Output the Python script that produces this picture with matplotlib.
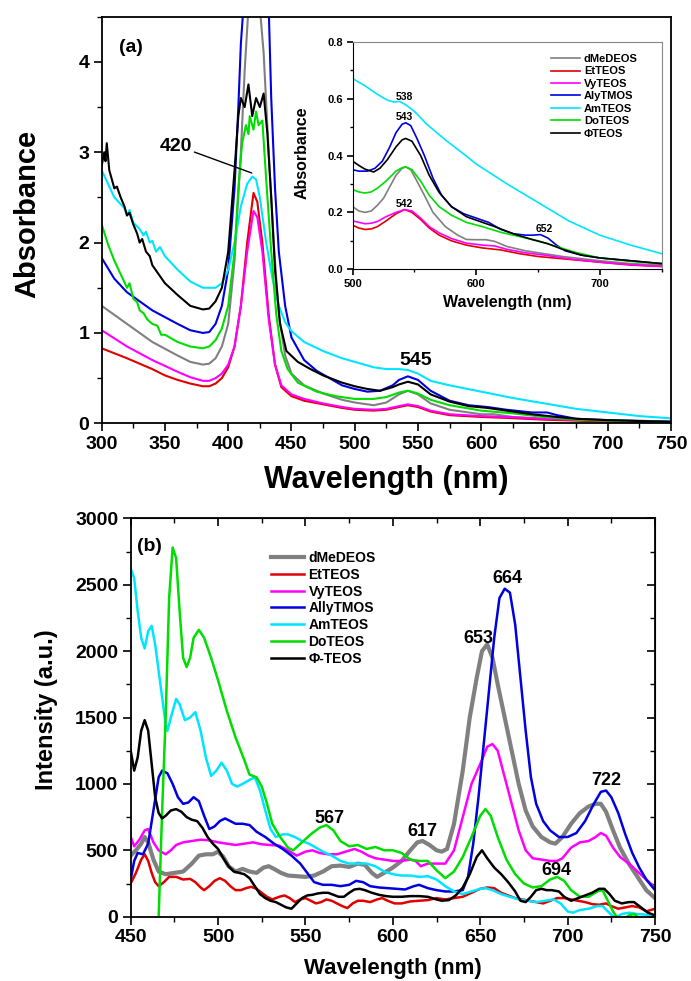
import matplotlib
matplotlib.use("Agg")
import matplotlib.pyplot as plt
from matplotlib.ticker import MultipleLocator, FormatStrFormatter, NullFormatter
import numpy as np

plt.rcParams['font.family'] = ['Liberation Sans', 'DejaVu Sans']
plt.rcParams['font.weight'] = 'bold'
plt.rcParams['axes.labelweight'] = 'bold'

names_a = ['dMeDEOS', 'EtTEOS', 'VyTEOS', 'AlyTMOS', 'AmTEOS', 'DoTEOS', u'\u03a6TEOS']
names_b = ['dMeDEOS', 'EtTEOS', 'VyTEOS', 'AllyTMOS', 'AmTEOS', 'DoTEOS', u'\u03a6-TEOS']
colors = ['#808080', '#e00000', '#ff00ff', '#0000e0', '#00e5ff', '#00dd00', '#000000']

# ---- (a) absorption spectra
abs_gray = [(300, 1.3), (320, 1.1), (340, 0.9), (360, 0.75), (370, 0.68), (380, 0.65), (385, 0.66),
            (390, 0.72), (395, 0.85), (400, 1.1), (405, 1.8), (410, 3.0), (413, 3.9), (416, 4.6),
            (425, 4.6), (428, 4.1), (432, 3.0), (436, 2.0), (440, 1.2), (445, 0.75), (450, 0.55),
            (460, 0.42), (475, 0.33), (490, 0.26), (500, 0.23), (515, 0.2), (525, 0.23), (535, 0.32),
            (542, 0.36), (550, 0.32), (560, 0.22), (575, 0.15), (600, 0.1), (610, 0.1), (625, 0.07),
            (650, 0.05), (700, 0.02), (750, 0.01)]
abs_red = [(300, 0.83), (320, 0.72), (340, 0.6), (350, 0.53), (360, 0.48), (370, 0.44), (380, 0.41),
           (385, 0.41), (390, 0.44), (395, 0.5), (400, 0.62), (405, 0.85), (410, 1.3), (415, 2.0),
           (420, 2.55), (423, 2.45), (427, 2.0), (432, 1.2), (437, 0.65), (442, 0.4), (450, 0.3),
           (460, 0.25), (475, 0.21), (490, 0.17), (500, 0.15), (515, 0.14), (525, 0.15), (535, 0.18),
           (542, 0.2), (550, 0.18), (560, 0.13), (575, 0.09), (600, 0.07), (620, 0.06), (650, 0.04),
           (700, 0.02), (750, 0.01)]
abs_mag = [(300, 1.03), (320, 0.85), (340, 0.7), (360, 0.57), (370, 0.51), (380, 0.47), (385, 0.47),
           (390, 0.5), (395, 0.55), (400, 0.65), (405, 0.85), (410, 1.3), (415, 1.9), (420, 2.35),
           (423, 2.28), (427, 1.9), (432, 1.15), (437, 0.65), (442, 0.42), (450, 0.32), (460, 0.27),
           (475, 0.22), (490, 0.18), (500, 0.16), (515, 0.15), (525, 0.16), (535, 0.19), (542, 0.21),
           (550, 0.19), (560, 0.14), (575, 0.1), (600, 0.08), (620, 0.07), (650, 0.05), (700, 0.03),
           (750, 0.015)]
abs_blue = [(300, 1.83), (310, 1.6), (320, 1.45), (340, 1.25), (360, 1.1), (370, 1.03), (380, 1.0),
            (385, 1.01), (390, 1.1), (395, 1.3), (400, 1.7), (405, 2.6), (408, 3.5), (410, 4.2),
            (412, 4.6), (432, 4.6), (434, 3.6), (437, 2.6), (440, 1.9), (445, 1.3), (450, 0.95),
            (460, 0.7), (470, 0.58), (480, 0.5), (490, 0.42), (500, 0.38), (510, 0.35), (520, 0.36),
            (530, 0.42), (535, 0.48), (542, 0.52), (550, 0.48), (560, 0.36), (575, 0.25), (590, 0.2),
            (605, 0.18), (620, 0.15), (640, 0.12), (652, 0.12), (660, 0.09), (675, 0.05), (700, 0.035),
            (750, 0.02)]
abs_cyan = [(300, 2.8), (305, 2.65), (310, 2.5), (318, 2.38), (320, 2.3), (322, 2.36), (325, 2.22),
            (330, 2.15), (333, 2.08), (335, 2.12), (338, 2.0), (340, 2.02), (343, 1.9), (346, 1.95),
            (350, 1.85), (360, 1.7), (370, 1.57), (380, 1.5), (385, 1.5), (390, 1.5), (395, 1.55),
            (400, 1.7), (405, 2.0), (410, 2.4), (415, 2.65), (419, 2.73), (422, 2.7), (425, 2.5),
            (430, 2.0), (435, 1.6), (440, 1.3), (445, 1.12), (450, 1.02), (460, 0.9), (475, 0.8),
            (490, 0.72), (500, 0.68), (515, 0.62), (525, 0.6), (535, 0.6), (542, 0.59), (550, 0.55),
            (560, 0.47), (575, 0.42), (600, 0.35), (625, 0.28), (650, 0.22), (675, 0.16), (700, 0.12),
            (725, 0.08), (750, 0.055)]
abs_green = [(300, 2.2), (305, 1.98), (310, 1.8), (315, 1.65), (320, 1.5), (322, 1.55), (325, 1.38),
             (328, 1.34), (330, 1.25), (333, 1.22), (336, 1.15), (340, 1.1), (344, 1.08), (347, 0.98),
             (350, 0.98), (360, 0.9), (370, 0.85), (380, 0.83), (385, 0.85), (390, 0.92), (395, 1.05),
             (400, 1.3), (405, 1.9), (408, 2.6), (411, 3.1), (414, 3.3), (416, 3.2), (417, 3.4),
             (420, 3.25), (422, 3.45), (424, 3.3), (427, 3.35), (430, 2.7), (434, 1.9), (438, 1.2),
             (442, 0.8), (447, 0.6), (455, 0.45), (470, 0.35), (485, 0.3), (500, 0.27), (515, 0.27),
             (525, 0.29), (535, 0.34), (542, 0.36), (550, 0.33), (560, 0.26), (575, 0.2), (600, 0.14),
             (625, 0.11), (650, 0.07), (675, 0.04), (700, 0.03), (750, 0.015)]
abs_black = [(300, 2.85), (302, 3.0), (303, 2.9), (304, 3.1), (306, 2.8), (308, 2.7), (310, 2.6),
             (312, 2.62), (315, 2.5), (318, 2.4), (320, 2.3), (322, 2.33), (325, 2.2), (328, 2.1),
             (330, 2.0), (332, 2.04), (335, 1.9), (338, 1.85), (340, 1.75), (345, 1.65), (350, 1.55),
             (360, 1.42), (370, 1.3), (380, 1.26), (385, 1.27), (390, 1.35), (395, 1.5), (400, 1.9),
             (405, 2.8), (408, 3.4), (410, 3.6), (413, 3.5), (416, 3.75), (419, 3.4), (422, 3.6),
             (425, 3.5), (428, 3.65), (431, 3.2), (434, 2.5), (437, 1.7), (441, 1.1), (446, 0.8),
             (455, 0.68), (465, 0.6), (475, 0.53), (490, 0.45), (500, 0.41), (510, 0.38), (520, 0.36),
             (530, 0.4), (535, 0.43), (542, 0.46), (550, 0.43), (560, 0.32), (575, 0.24), (590, 0.19),
             (605, 0.17), (620, 0.14), (640, 0.1), (660, 0.07), (675, 0.05), (700, 0.035), (750, 0.015)]
abs_all = [abs_gray, abs_red, abs_mag, abs_blue, abs_cyan, abs_green, abs_black]

# ---- inset 500-750 nm
ins_gray = [(500, 0.22), (505, 0.205), (510, 0.2), (515, 0.205), (520, 0.225), (525, 0.25),
            (530, 0.29), (535, 0.33), (540, 0.355), (543, 0.36), (547, 0.35), (552, 0.31), (558, 0.26),
            (565, 0.2), (575, 0.15), (585, 0.12), (592, 0.105), (600, 0.104), (608, 0.104), (615, 0.098),
            (625, 0.08), (640, 0.065), (655, 0.055), (670, 0.045), (700, 0.03), (725, 0.02), (750, 0.015)]
ins_red = [(500, 0.155), (505, 0.145), (510, 0.14), (515, 0.142), (520, 0.15), (527, 0.17),
           (535, 0.195), (542, 0.21), (548, 0.2), (555, 0.175), (562, 0.145), (570, 0.12), (580, 0.1),
           (592, 0.085), (605, 0.075), (620, 0.068), (635, 0.055), (650, 0.045), (675, 0.035),
           (700, 0.025), (725, 0.015), (750, 0.01)]
ins_mag = [(500, 0.17), (505, 0.165), (510, 0.16), (515, 0.162), (520, 0.168), (527, 0.185),
           (535, 0.2), (542, 0.21), (548, 0.205), (555, 0.18), (562, 0.15), (570, 0.128), (580, 0.108),
           (592, 0.092), (605, 0.085), (615, 0.082), (625, 0.07), (640, 0.058), (655, 0.05),
           (675, 0.037), (700, 0.025), (725, 0.016), (750, 0.01)]
ins_blue = [(500, 0.35), (505, 0.345), (512, 0.345), (518, 0.355), (524, 0.38), (530, 0.43),
            (535, 0.48), (540, 0.51), (543, 0.515), (547, 0.505), (552, 0.46), (558, 0.4), (565, 0.32),
            (572, 0.26), (580, 0.22), (590, 0.195), (600, 0.18), (610, 0.165), (620, 0.14), (630, 0.125),
            (640, 0.12), (646, 0.12), (652, 0.122), (658, 0.11), (665, 0.085), (672, 0.065), (685, 0.05),
            (700, 0.04), (725, 0.03), (750, 0.02)]
ins_cyan = [(500, 0.67), (510, 0.645), (520, 0.615), (528, 0.595), (533, 0.588), (538, 0.59),
            (543, 0.578), (550, 0.555), (560, 0.51), (575, 0.455), (590, 0.405), (600, 0.37),
            (625, 0.3), (650, 0.235), (675, 0.17), (700, 0.12), (725, 0.085), (750, 0.055)]
ins_green = [(500, 0.28), (505, 0.272), (510, 0.268), (515, 0.272), (520, 0.285), (527, 0.31),
             (535, 0.345), (540, 0.357), (543, 0.36), (548, 0.35), (555, 0.31), (562, 0.26),
             (570, 0.22), (580, 0.19), (592, 0.165), (605, 0.15), (620, 0.13), (635, 0.115),
             (650, 0.1), (665, 0.08), (680, 0.06), (700, 0.04), (725, 0.028), (750, 0.02)]
ins_black = [(500, 0.38), (505, 0.365), (510, 0.352), (517, 0.342), (522, 0.355), (528, 0.385),
             (535, 0.43), (540, 0.455), (543, 0.46), (548, 0.45), (555, 0.4), (562, 0.33), (570, 0.27),
             (580, 0.22), (592, 0.185), (605, 0.165), (615, 0.15), (630, 0.125), (645, 0.105),
             (658, 0.09), (670, 0.07), (685, 0.05), (700, 0.04), (725, 0.03), (750, 0.02)]
ins_all = [ins_gray, ins_red, ins_mag, ins_blue, ins_cyan, ins_green, ins_black]

# ---- (b) emission spectra
pl_gray = [(450, 460), (453, 500), (456, 550), (458, 600), (460, 560), (463, 430), (466, 340), (470, 320),
           (475, 330), (480, 340), (485, 400), (489, 460), (493, 470), (497, 470), (500, 490), (503, 450),
           (506, 380), (510, 340), (514, 360), (518, 340), (522, 330), (526, 370), (529, 380), (532, 360),
           (536, 330), (540, 310), (545, 305), (550, 300), (555, 310), (560, 340), (565, 380), (570, 385),
           (575, 375), (580, 400), (584, 390), (588, 330), (591, 300), (595, 330), (600, 370), (605, 420),
           (610, 500), (614, 560), (617, 570), (621, 540), (625, 500), (628, 490), (631, 510), (635, 700),
           (640, 1100), (644, 1500), (648, 1800), (651, 2000), (654, 2050), (657, 1950), (660, 1750),
           (664, 1500), (668, 1250), (672, 1000), (676, 800), (680, 680), (685, 600), (690, 560),
           (693, 550), (697, 600), (702, 700), (707, 780), (712, 830), (716, 850), (719, 850), (722, 790),
           (726, 650), (730, 520), (735, 400), (740, 300), (745, 200), (750, 140)]
pl_red = [(450, 250), (453, 330), (456, 430), (458, 470), (460, 420), (462, 330), (464, 260), (466, 230),
          (469, 260), (472, 300), (476, 300), (480, 280), (484, 285), (487, 260), (490, 220), (492, 200),
          (495, 230), (498, 270), (501, 290), (504, 270), (507, 230), (510, 200), (513, 200), (516, 215),
          (519, 225), (522, 210), (525, 180), (528, 150), (531, 130), (535, 150), (538, 160), (541, 140),
          (544, 110), (547, 130), (550, 140), (553, 120), (556, 100), (559, 110), (562, 130), (565, 120),
          (568, 100), (571, 80), (574, 65), (577, 100), (580, 120), (583, 120), (587, 110), (591, 130),
          (594, 140), (597, 120), (601, 100), (605, 100), (610, 115), (615, 120), (620, 125), (625, 140),
          (630, 130), (635, 140), (640, 150), (645, 180), (650, 210), (654, 220), (658, 215), (662, 180),
          (666, 160), (670, 140), (674, 130), (678, 120), (682, 110), (686, 100), (690, 120), (694, 140),
          (698, 140), (702, 130), (706, 120), (710, 110), (714, 95), (718, 90), (722, 100), (725, 80),
          (729, 60), (733, 70), (737, 80), (741, 70), (745, 40), (750, 60)]
pl_mag = [(450, 600), (452, 530), (455, 580), (458, 650), (460, 660), (463, 560), (466, 500), (470, 470),
          (473, 500), (476, 540), (480, 560), (485, 570), (490, 580), (495, 575), (500, 560), (505, 550),
          (510, 540), (515, 550), (520, 560), (525, 545), (530, 540), (535, 535), (540, 500), (545, 460),
          (550, 490), (554, 500), (558, 480), (563, 470), (568, 470), (573, 490), (578, 510), (582, 490),
          (586, 460), (590, 440), (595, 430), (600, 420), (605, 420), (610, 430), (613, 420), (616, 380),
          (620, 400), (625, 400), (630, 400), (635, 500), (640, 750), (645, 1000), (650, 1150),
          (654, 1280), (657, 1300), (660, 1250), (664, 1050), (668, 850), (672, 650), (676, 500),
          (680, 440), (685, 430), (690, 420), (694, 420), (697, 440), (702, 520), (707, 560), (712, 570),
          (716, 600), (719, 630), (722, 610), (726, 520), (730, 450), (735, 400), (740, 340), (745, 280),
          (750, 220)]
pl_blue = [(450, 280), (452, 420), (454, 480), (457, 470), (460, 550), (463, 800), (466, 1050),
           (468, 1100), (471, 1080), (474, 1000), (477, 900), (480, 850), (483, 860), (486, 900),
           (489, 870), (492, 760), (495, 660), (498, 680), (501, 720), (504, 740), (507, 720), (510, 700),
           (514, 700), (518, 690), (522, 640), (527, 600), (532, 550), (537, 510), (542, 460), (547, 400),
           (551, 330), (555, 260), (560, 240), (565, 240), (570, 230), (575, 240), (579, 270), (583, 260),
           (587, 230), (592, 220), (597, 215), (602, 210), (607, 205), (612, 230), (615, 240), (620, 215),
           (625, 200), (630, 190), (635, 190), (640, 200), (643, 300), (646, 550), (649, 900), (652, 1300),
           (655, 1700), (658, 2100), (661, 2400), (664, 2470), (667, 2440), (670, 2200), (673, 1800),
           (676, 1400), (679, 1050), (682, 850), (686, 720), (690, 650), (695, 600), (700, 600),
           (705, 630), (710, 720), (715, 850), (719, 940), (722, 950), (725, 900), (729, 780), (733, 620),
           (737, 480), (741, 370), (745, 280), (750, 200)]
pl_cyan = [(450, 2620), (452, 2550), (454, 2300), (456, 2100), (458, 2020), (460, 2150), (462, 2190),
           (464, 2050), (466, 1850), (468, 1650), (470, 1450), (471, 1400), (473, 1500), (476, 1640),
           (478, 1600), (481, 1480), (484, 1500), (487, 1540), (490, 1400), (493, 1200), (496, 1060),
           (499, 1100), (502, 1160), (505, 1100), (508, 1000), (511, 980), (514, 1000), (518, 1030),
           (521, 1050), (524, 950), (527, 800), (530, 660), (533, 600), (537, 620), (540, 620), (544, 600),
           (548, 570), (552, 550), (556, 520), (560, 490), (565, 460), (570, 420), (575, 400), (580, 400),
           (585, 400), (590, 380), (595, 340), (600, 320), (605, 310), (610, 310), (615, 300), (620, 305),
           (625, 280), (630, 230), (635, 190), (640, 170), (645, 190), (650, 210), (653, 215), (657, 200),
           (662, 170), (667, 150), (672, 130), (677, 120), (682, 110), (687, 120), (692, 130), (696, 100),
           (700, 40), (703, 30), (707, 50), (712, 60), (717, 80), (720, 80), (723, 40), (727, -10),
           (731, 20), (735, 30), (740, 20), (745, 15), (750, 10)]
pl_green = [(465, -200), (466, 0), (468, 800), (470, 1500), (472, 2400), (474, 2780), (476, 2700),
            (478, 2300), (480, 1950), (482, 1880), (484, 1950), (486, 2100), (489, 2160), (492, 2100),
            (496, 1950), (500, 1780), (505, 1550), (510, 1350), (515, 1180), (518, 1070), (522, 1050),
            (525, 980), (528, 850), (531, 700), (535, 610), (540, 520), (543, 500), (548, 560), (553, 620),
            (558, 670), (562, 690), (566, 650), (570, 570), (575, 530), (580, 540), (585, 510), (590, 525),
            (595, 500), (600, 500), (605, 480), (610, 430), (615, 420), (620, 420), (625, 350), (630, 290),
            (635, 340), (640, 450), (645, 600), (650, 760), (653, 810), (656, 760), (660, 600), (665, 430),
            (670, 320), (675, 250), (680, 220), (685, 230), (690, 280), (694, 300), (698, 270), (702, 200),
            (707, 150), (712, 150), (717, 190), (720, 200), (723, 120), (726, 40), (728, 0), (731, -30),
            (735, 10), (738, 20), (741, -10), (745, -50), (750, -60)]
pl_black = [(450, 1250), (452, 1100), (454, 1200), (456, 1400), (458, 1480), (460, 1400), (462, 1150),
            (464, 900), (466, 780), (468, 740), (470, 760), (473, 800), (476, 810), (479, 790), (482, 750),
            (485, 730), (488, 720), (491, 670), (494, 600), (497, 550), (500, 510), (503, 440), (506, 380),
            (509, 340), (512, 330), (515, 320), (518, 290), (521, 230), (524, 170), (527, 140), (530, 120),
            (533, 110), (536, 90), (539, 70), (542, 60), (545, 100), (548, 140), (551, 160), (554, 165),
            (557, 175), (560, 180), (563, 180), (566, 165), (569, 150), (572, 150), (575, 180), (578, 205),
            (581, 210), (584, 200), (588, 180), (592, 165), (596, 155), (600, 150), (605, 150), (610, 155),
            (615, 155), (620, 150), (625, 130), (628, 120), (632, 125), (636, 160), (640, 220), (644, 320),
            (648, 450), (651, 500), (654, 440), (658, 370), (662, 320), (666, 260), (670, 190), (673, 120),
            (676, 110), (679, 150), (682, 200), (685, 210), (688, 200), (691, 200), (695, 190), (698, 150),
            (702, 120), (706, 140), (710, 160), (714, 180), (718, 210), (721, 210), (724, 170), (727, 120),
            (731, 100), (735, 110), (738, 110), (742, 70), (746, 30), (750, 10)]
pl_all = [pl_gray, pl_red, pl_mag, pl_blue, pl_cyan, pl_green, pl_black]
pl_widths = [3.0, 1.8, 1.8, 1.8, 1.8, 1.8, 1.8]

W, H = 691, 981
fig = plt.figure(figsize=(W / 100.0, H / 100.0), dpi=100)


def box(l, t, r, b):
    return [l / W, 1 - b / H, (r - l) / W, (b - t) / H]


def ticks(ax, size, length=6):
    ax.tick_params(which='major', length=length, width=1.2, labelsize=size, pad=3)
    ax.tick_params(which='minor', length=length * 0.6, width=1.0)
    for lab in ax.get_xticklabels() + ax.get_yticklabels():
        lab.set_fontweight('bold')


# ---------------- panel (a)
ax1 = fig.add_axes(box(101.7, 16.7, 671, 423.3))
for d, c in zip(abs_all, colors):
    d = np.array(d)
    ax1.plot(d[:, 0], d[:, 1], color=c, lw=1.5)
ax1.set_xlim(300, 750)
ax1.set_ylim(0, 4.5)
ax1.xaxis.set_major_locator(MultipleLocator(50))
ax1.xaxis.set_minor_locator(MultipleLocator(25))
ax1.yaxis.set_major_locator(MultipleLocator(1))
ax1.yaxis.set_minor_locator(MultipleLocator(0.5))
ax1.tick_params(which='both', direction='out', top=False, right=False)
ticks(ax1, 14)
for s in ax1.spines.values():
    s.set_linewidth(1.3)
ax1.set_ylabel('Absorbance', fontsize=21, fontweight='bold')
ax1.yaxis.set_label_coords(-0.130, 0.515)
ax1.yaxis.label.set_va('center')
ax1.set_xlabel('Wavelength (nm)', fontsize=22, fontweight='bold')
ax1.xaxis.set_label_coords(0.5, -0.139)
ax1.xaxis.label.set_va('center')
ax1.text(0.03, 0.925, '(a)', transform=ax1.transAxes, fontsize=14, fontweight='bold', va='center')
ax1.annotate('420', xy=(418.6, 2.77), xytext=(358.3, 3.06), fontsize=14, fontweight='bold',
             ha='center', va='center',
             arrowprops=dict(arrowstyle='-', color='k', lw=1.0, shrinkA=0, shrinkB=0,
                             relpos=(1.0, 0.25)))
ax1.text(548, 0.69, '545', fontsize=14, fontweight='bold', ha='center', va='center')

# inset
ax_in = fig.add_axes(box(352.7, 41.7, 661.5, 269.3))
for d, c in zip(ins_all, colors):
    d = np.array(d)
    ax_in.plot(d[:, 0], d[:, 1], color=c, lw=1.2)
ax_in.set_xlim(500, 750)
ax_in.set_ylim(0, 0.8)
ax_in.xaxis.set_major_locator(MultipleLocator(100))
ax_in.xaxis.set_minor_locator(MultipleLocator(50))
ax_in.yaxis.set_major_locator(MultipleLocator(0.2))
ax_in.yaxis.set_minor_locator(MultipleLocator(0.1))
ax_in.tick_params(which='both', direction='out', top=False, right=False)
ticks(ax_in, 8, length=4)
ax_in.yaxis.set_major_formatter(FormatStrFormatter('%.1f'))
ax_in.spines['top'].set_color('#888888')
ax_in.spines['right'].set_color('#888888')
ax_in.set_ylabel('Absorbance', fontsize=11.5, fontweight='bold')
ax_in.yaxis.set_label_coords(-0.164, 0.511)
ax_in.yaxis.label.set_va('center')
ax_in.set_xlabel('Wavelength (nm)', fontsize=11.5, fontweight='bold')
ax_in.xaxis.set_label_coords(0.5, -0.144)
ax_in.xaxis.label.set_va('center')
for txt, x, y in [('538', 542, 0.607), ('543', 542, 0.536), ('542', 542, 0.23), ('652', 655, 0.143)]:
    ax_in.text(x, y, txt, fontsize=7.5, fontweight='bold', ha='center', va='center')
h_in = [ax_in.lines[i] for i in range(7)]
ax_in.legend(h_in, names_a, loc='upper left', bbox_to_anchor=(551 / W, 1 - 54 / H),
             bbox_transform=fig.transFigure, frameon=False, borderpad=0,
             borderaxespad=0, handlelength=2.6, handletextpad=0.35, labelspacing=0.22,
             prop={'weight': 'bold', 'size': 8})

# ---------------- panel (b)
ax2 = fig.add_axes(box(130.7, 518.3, 655, 916.7))
for d, c, w in zip(pl_all, colors, pl_widths):
    d = np.array(d)
    ax2.plot(d[:, 0], d[:, 1], color=c, lw=w)
ax2.set_xlim(450, 750)
ax2.set_ylim(0, 3000)
ax2.xaxis.set_major_locator(MultipleLocator(50))
ax2.xaxis.set_minor_locator(MultipleLocator(25))
ax2.yaxis.set_major_locator(MultipleLocator(500))
ax2.yaxis.set_minor_locator(MultipleLocator(250))
ax2.tick_params(which='both', direction='out', top=False, right=False)
ticks(ax2, 14)
for s in ax2.spines.values():
    s.set_linewidth(1.3)

# mirrored ticks on top and right, pointing inward
top = ax2.secondary_xaxis('top')
top.xaxis.set_major_locator(MultipleLocator(50))
top.xaxis.set_minor_locator(MultipleLocator(25))
top.xaxis.set_major_formatter(NullFormatter())
top.tick_params(which='major', direction='in', length=6, width=1.2)
top.tick_params(which='minor', direction='in', length=3.6, width=1.0)
rgt = ax2.secondary_yaxis('right')
rgt.yaxis.set_major_locator(MultipleLocator(500))
rgt.yaxis.set_minor_locator(MultipleLocator(250))
rgt.yaxis.set_major_formatter(NullFormatter())
rgt.tick_params(which='major', direction='in', length=6, width=1.2)
rgt.tick_params(which='minor', direction='in', length=3.6, width=1.0)

ax2.set_ylabel('Intensity (a.u.)', fontsize=17, fontweight='bold')
ax2.yaxis.set_label_coords(-0.1615, 0.519)
ax2.yaxis.label.set_va('center')
ax2.set_xlabel('Wavelength (nm)', fontsize=16, fontweight='bold')
ax2.xaxis.set_label_coords(0.5, -0.129)
ax2.xaxis.label.set_va('center')
ax2.text(0.012, 0.93, '(b)', transform=ax2.transAxes, fontsize=14, fontweight='bold', va='center')
for txt, x, y in [('567', 563.7, 736), ('617', 616.7, 645), ('653', 648.7, 2096),
                  ('664', 665.6, 2543), ('722', 722.3, 1029), ('694', 693.3, 346)]:
    ax2.text(x, y, txt, fontsize=13, fontweight='bold', ha='center', va='center')
ax2.legend(ax2.lines[:7], names_b, loc='upper left', bbox_to_anchor=(271 / W, 1 - 551 / H),
           bbox_transform=fig.transFigure, frameon=False, borderpad=0, borderaxespad=0,
           handlelength=2.4, handletextpad=0.3, labelspacing=0.2,
           prop={'weight': 'bold', 'size': 10})

fig.savefig('out.png', dpi=100)
